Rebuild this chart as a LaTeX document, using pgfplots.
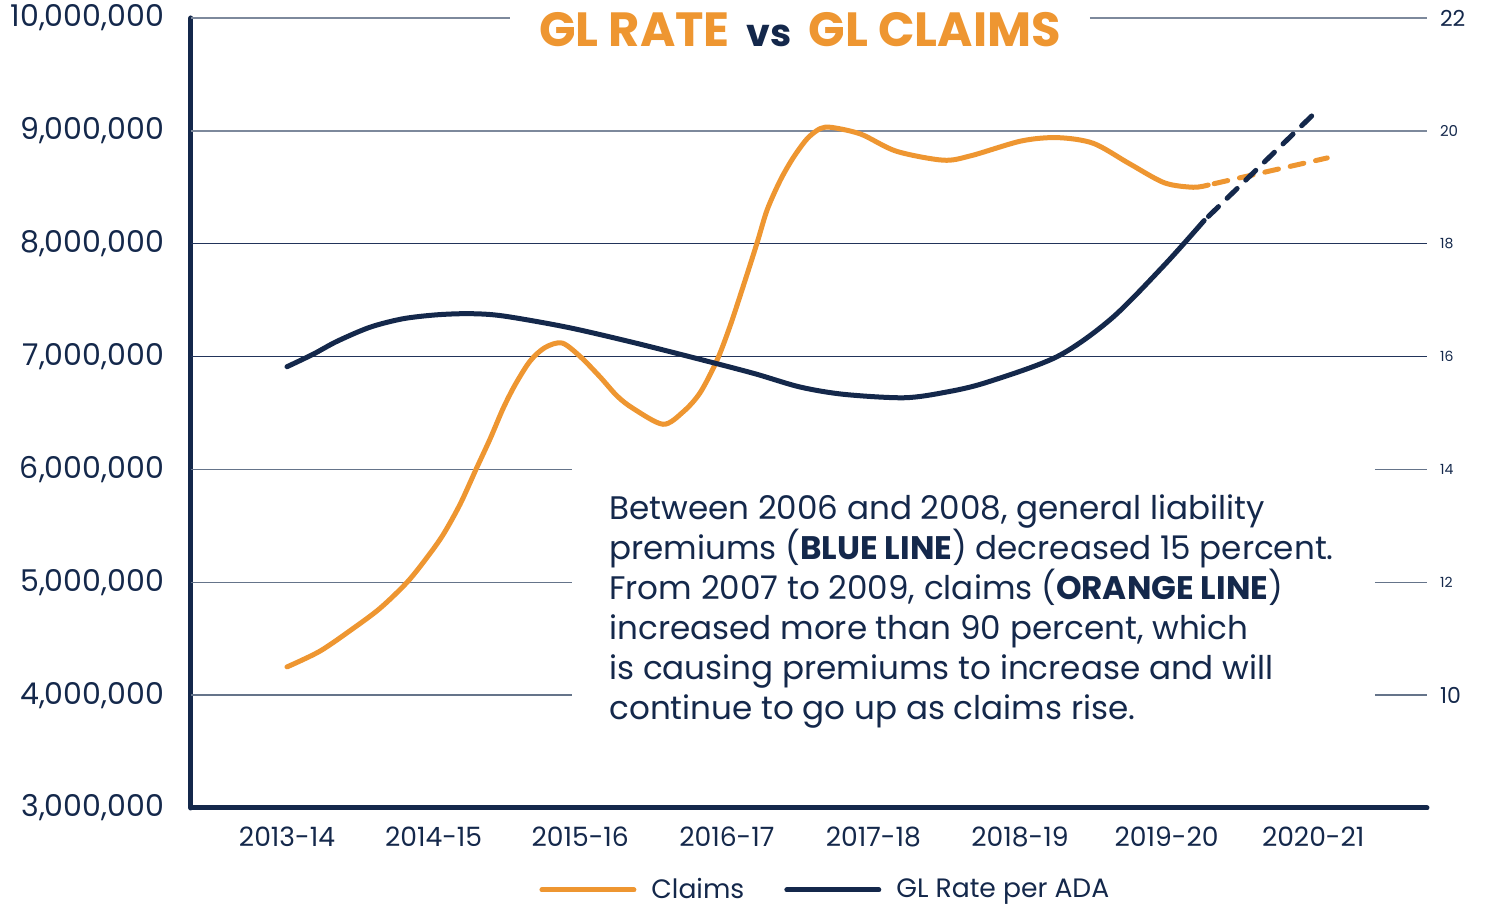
\documentclass[border=0pt]{standalone}
\usepackage{fontspec}
\setmainfont{Poppins}
\usepackage{pgfplots}
\usepackage{pgfplotstable}
\pgfplotsset{compat=1.18}
\definecolor{cor}{HTML}{EE9631}
\definecolor{cnavy}{HTML}{14284B}
\definecolor{gridA}{HTML}{7D899C}
\definecolor{gridB}{HTML}{22345A}
\definecolor{gridC}{HTML}{65748A}

\pgfplotstableread{
x y
0.000 4250000
0.225 4390000
0.450 4590000
0.635 4770000
0.819 5000000
0.955 5220000
1.064 5420000
1.180 5690000
1.289 6000000
1.385 6270000
1.474 6540000
1.556 6750000
1.658 6960000
1.760 7080000
1.876 7120000
2.000 7000000
2.135 6820000
2.252 6650000
2.361 6540000
2.565 6400000
2.702 6510000
2.818 6680000
2.934 6970000
3.022 7270000
3.111 7620000
3.207 8010000
3.275 8300000
3.364 8560000
3.452 8760000
3.548 8930000
3.637 9020000
3.718 9030000
3.916 8970000
4.155 8820000
4.476 8740000
4.667 8780000
5.008 8910000
5.254 8940000
5.499 8890000
5.745 8710000
5.984 8540000
6.181 8500000
6.284 8520000
}\claims

\pgfplotstableread{
x y
6.284 8520000
7.096 8760000
}\claimsproj

\pgfplotstableread{
x y
0.000 15.82
0.177 16.04
0.341 16.27
0.566 16.52
0.791 16.67
1.023 16.74
1.248 16.76
1.473 16.72
1.910 16.52
2.361 16.25
2.818 15.95
3.186 15.70
3.500 15.46
3.800 15.33
4.210 15.27
4.496 15.37
4.769 15.54
5.254 16.00
5.622 16.67
5.984 17.62
6.256 18.41
}\rate

\pgfplotstableread{
x y
6.256 18.41
7.000 20.29
}\rateproj

\begin{document}
\begin{tikzpicture}
\path[use as bounding box] (0,0) rectangle (742.5pt,454.5pt);
\begin{axis}[
  at={(95.5pt,50.5pt)}, anchor=south west,
  scale only axis, width=618pt, height=395pt,
  xmin=-0.655, xmax=7.776, ymin=3000000, ymax=10000000,
  axis x line*=bottom, axis y line*=left,
  axis line style={-, line width=2.5pt, cnavy, line cap=round},
  xtick={0,1,2,3,4,5,6,7},
  xticklabels={2013-14,2014-15,2015-16,2016-17,2017-18,2018-19,2019-20,2020-21},
  ytick={3000000,4000000,5000000,6000000,7000000,8000000,9000000,10000000},
  yticklabels={{3,000,000},{4,000,000},{5,000,000},{6,000,000},{7,000,000},{8,000,000},{9,000,000},{10,000,000}},
  scaled y ticks=false,
  major tick length=0pt,
  yticklabel style={font=\fontsize{15}{17}\selectfont, text=cnavy, xshift=-10pt},
  xticklabel style={font=\fontsize{13.3}{16}\selectfont, text=cnavy, yshift=-6pt},
  clip=false,
]
% gridlines
\draw[gridA, line width=0.75pt] (axis cs:-0.655,10000000) -- (axis cs:1.521,10000000);
\draw[gridA, line width=0.75pt] (axis cs:5.477,10000000) -- (axis cs:7.776,10000000);
\draw[gridA, line width=0.75pt] (axis cs:-0.655,9000000) -- (axis cs:7.776,9000000);
\draw[gridB, line width=0.75pt] (axis cs:-0.655,8000000) -- (axis cs:7.776,8000000);
\draw[gridB, line width=0.75pt] (axis cs:-0.655,7000000) -- (axis cs:7.776,7000000);
\draw[gridC, line width=0.75pt] (axis cs:-0.655,6000000) -- (axis cs:1.944,6000000);
\draw[gridC, line width=0.75pt] (axis cs:7.421,6000000) -- (axis cs:7.776,6000000);
\draw[gridC, line width=0.75pt] (axis cs:-0.655,5000000) -- (axis cs:1.944,5000000);
\draw[gridC, line width=0.75pt] (axis cs:7.421,5000000) -- (axis cs:7.776,5000000);
\draw[gridC, line width=0.75pt] (axis cs:-0.655,4000000) -- (axis cs:1.944,4000000);
\draw[gridC, line width=0.75pt] (axis cs:7.421,4000000) -- (axis cs:7.776,4000000);
\addplot[cor, line width=2.5pt, smooth, line cap=round] table {\claims};
\addplot[cor, line width=2.5pt, line cap=round, dash pattern=on 7pt off 6pt, dash phase=-3pt] table {\claimsproj};
\end{axis}

\begin{axis}[
  at={(95.5pt,50.5pt)}, anchor=south west,
  scale only axis, width=618pt, height=395pt,
  xmin=-0.655, xmax=7.776, ymin=8, ymax=22,
  axis y line*=right, axis x line=none,
  axis line style={draw=none},
  xtick=\empty,
  ytick={10,12,14,16,18,20,22},
  yticklabels={{\fontsize{11}{12}\selectfont 10},{\fontsize{7}{8}\selectfont 12},{\fontsize{7}{8}\selectfont 14},{\fontsize{7}{8}\selectfont 16},{\fontsize{7}{8}\selectfont 18},{\fontsize{7.5}{8}\selectfont 20},{\fontsize{11}{12}\selectfont 22}},
  yticklabel style={anchor=west, text=cnavy, xshift=3pt},
  major tick length=0pt,
  clip=false,
  legend style={at={(0.514,-0.1038)}, anchor=center, draw=none, fill=none,
    legend columns=2, font=\fontsize{13.3}{16}\selectfont, text=cnavy,
    /tikz/every even column/.append style={column sep=18pt}},
  legend image code/.code={\draw[#1, line width=2.5pt, solid, line cap=round] (1.25pt,0pt) -- (47.25pt,0pt); \path[draw=none] (0pt,0pt) -- (54pt,0pt);},
]
\addlegendimage{cor}
\addlegendentry{Claims}
\addplot[cnavy, line width=2.5pt, smooth, line cap=round] table {\rate};
\addlegendentry{GL Rate per ADA}
\addplot[cnavy, line width=2.5pt, line cap=round, dash pattern=on 7pt off 6pt, dash phase=-3pt, forget plot] table {\rateproj};
\end{axis}

\node[anchor=center, inner sep=0pt, font=\bfseries\fontsize{24}{28}\selectfont] at (400pt,439.5pt)
  {\textcolor{cor}{GL RATE}\hspace{0.35em}\textcolor{cnavy}{\fontsize{19}{20}\selectfont vs}\hspace{0.35em}\textcolor{cor}{GL CLAIMS}};

\node[anchor=north west, inner sep=0pt, align=left, text=cnavy, font=\fontsize{16.3}{20}\selectfont] at (304.5pt,207.5pt)
  {Between 2006 and 2008, general liability\\
   premiums (\textbf{BLUE LINE}) decreased 15 percent.\\
   From 2007 to 2009, claims (\textbf{ORANGE LINE})\\
   increased more than 90 percent, which\\
   is causing premiums to increase and will\\
   continue to go up as claims rise.};
\end{tikzpicture}
\end{document}
